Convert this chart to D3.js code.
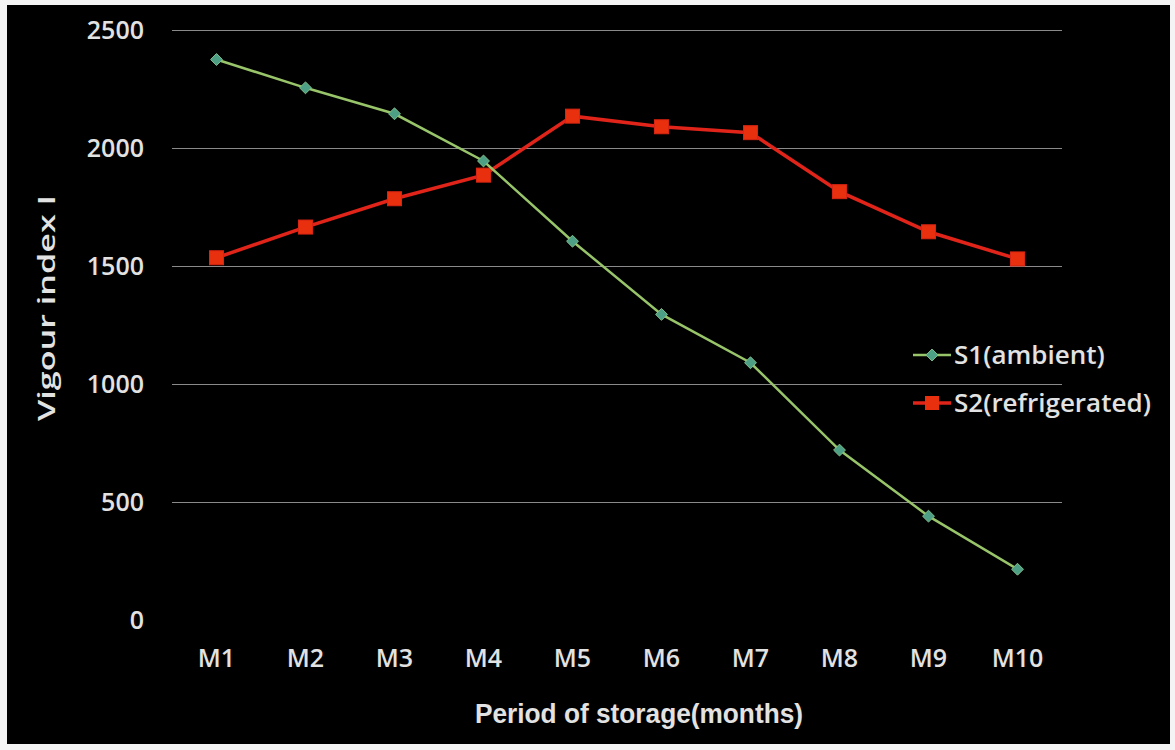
<!DOCTYPE html>
<html>
<head>
<meta charset="utf-8">
<script src="https://cdn.jsdelivr.net/npm/d3@7/dist/d3.min.js"></script>
<style>
  html, body { margin: 0; padding: 0; background: #ffffff; }
  svg { display: block; }
</style>
</head>
<body>
<svg id="chart" width="1175" height="750"></svg>
<script>
// Storage months and vigour index for the two storage conditions
const months = ["M1", "M2", "M3", "M4", "M5", "M6", "M7", "M8", "M9", "M10"];
const ambient = [2375, 2255, 2145, 1945, 1605, 1295, 1090, 720, 440, 215];
const refrigerated = [1535, 1665, 1785, 1885, 2135, 2090, 2065, 1815, 1645, 1530];
const yTicks = [0, 500, 1000, 1500, 2000, 2500];
const seriesNames = ["S1(ambient)", "S2(refrigerated)"];

const svg = d3.select("#chart");
const W = 1175, H = 750;
const font = "'Open Sans', Lato, 'DejaVu Sans', sans-serif";
const titleFont = "'Liberation Sans', Arial, sans-serif";
const textColor = "#e2e2e2";
const fs = 25;

// dark panel with a thin light frame
svg.append("rect").attr("x", 0).attr("y", 0).attr("width", W).attr("height", H).attr("fill", "#f4f4f4");
svg.append("rect").attr("x", 7).attr("y", 5).attr("width", 1163).attr("height", 739).attr("fill", "#000000");

const plot = { left: 172, right: 1062, top: 30, bottom: 620 };

const x = d3.scaleBand().domain(months).range([plot.left, plot.right]);
const y = d3.scaleLinear().domain([0, 2500]).range([plot.bottom, plot.top]);
const cx = d => x(d) + x.bandwidth() / 2;

// horizontal gridlines (no line at zero)
const yAxis = d3.axisLeft(y).tickValues(yTicks).tickFormat(d3.format("d"))
  .tickSize(-(plot.right - plot.left)).tickPadding(28);
const gy = svg.append("g").attr("transform", `translate(${plot.left},0)`).call(yAxis);
gy.select(".domain").remove();
gy.selectAll(".tick line")
  .attr("stroke", "#8a8a8a").attr("stroke-width", 1)
  .attr("opacity", d => d === 0 ? 0 : 1);
gy.selectAll(".tick text")
  .attr("fill", textColor).attr("font-family", font).attr("font-size", fs).attr("font-weight", 600);

// category axis labels
const xAxis = d3.axisBottom(x).tickSize(0).tickPadding(29);
const gx = svg.append("g").attr("transform", `translate(0,${plot.bottom})`).call(xAxis);
gx.select(".domain").remove();
gx.selectAll(".tick text")
  .attr("fill", textColor).attr("font-family", font).attr("font-size", fs).attr("font-weight", 600);

// axis titles
svg.append("text")
  .attr("x", 639).attr("y", 723)
  .attr("text-anchor", "middle")
  .attr("textLength", 328).attr("lengthAdjust", "spacingAndGlyphs")
  .attr("fill", textColor).attr("font-family", titleFont).attr("font-size", 27).attr("font-weight", 700)
  .text("Period of storage(months)");
svg.append("text")
  .attr("transform", `translate(55, ${308}) rotate(-90)`)
  .attr("text-anchor", "middle")
  .attr("textLength", 226).attr("lengthAdjust", "spacingAndGlyphs")
  .attr("fill", textColor).attr("font-family", font).attr("font-size", 23).attr("font-weight", 600)
  .text("Vigour index I");

const line = d3.line().x((d, i) => cx(months[i])).y(d => y(d));

// S2 refrigerated: red line with square markers
svg.append("path").datum(refrigerated)
  .attr("d", line).attr("fill", "none").attr("stroke", "#e0241a").attr("stroke-width", 3.5);
svg.append("g").selectAll("rect").data(refrigerated).join("rect")
  .attr("x", (d, i) => cx(months[i]) - 7).attr("y", d => y(d) - 7)
  .attr("width", 14).attr("height", 14)
  .attr("fill", "#e8300f").attr("stroke", "#d82412").attr("stroke-width", 1);

// S1 ambient: green line with diamond markers
svg.append("path").datum(ambient)
  .attr("d", line).attr("fill", "none").attr("stroke", "#98c46a").attr("stroke-width", 2.5);
const diamond = d3.symbol().type(d3.symbolDiamond2).size(90);
svg.append("g").selectAll("path").data(ambient).join("path")
  .attr("d", diamond)
  .attr("transform", (d, i) => `translate(${cx(months[i])},${y(d)})`)
  .attr("fill", "#4d9f86").attr("stroke", "#7fc08a").attr("stroke-width", 1);

// legend
const lfs = 26;
const legend = svg.append("g").attr("transform", "translate(913, 355)");
const l1 = legend.append("g");
l1.append("line").attr("x1", 0).attr("x2", 38).attr("y1", 0).attr("y2", 0).attr("stroke", "#98c46a").attr("stroke-width", 2.5);
l1.append("path").attr("d", diamond).attr("transform", "translate(19,0)").attr("fill", "#4d9f86").attr("stroke", "#7fc08a");
l1.append("text").attr("x", 41).attr("y", 9).attr("fill", textColor).attr("font-family", font)
  .attr("font-size", lfs).attr("font-weight", 600).text(seriesNames[0]);
const l2 = legend.append("g").attr("transform", "translate(0, 48)");
l2.append("line").attr("x1", 0).attr("x2", 38).attr("y1", 0).attr("y2", 0).attr("stroke", "#e0241a").attr("stroke-width", 3.5);
l2.append("rect").attr("x", 12).attr("y", -7).attr("width", 14).attr("height", 14).attr("fill", "#e8300f");
l2.append("text").attr("x", 41).attr("y", 9).attr("fill", textColor).attr("font-family", font)
  .attr("font-size", lfs).attr("font-weight", 600).text(seriesNames[1]);
</script>
</body>
</html>
